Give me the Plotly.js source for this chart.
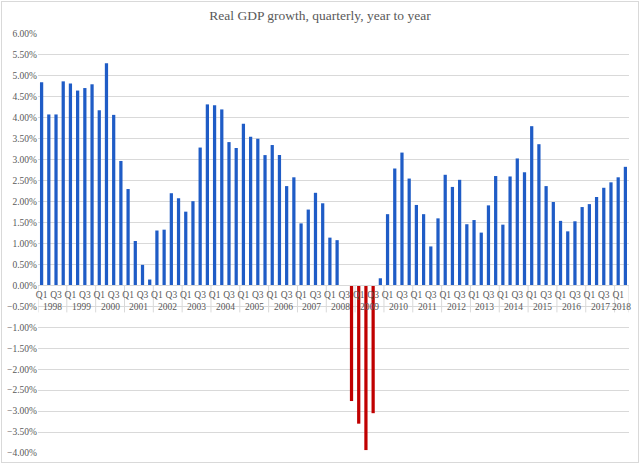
<!DOCTYPE html>
<html>
<head>
<meta charset="utf-8">
<script src="https://cdn.plot.ly/plotly-3.0.1.min.js"></script>
<style>
  body { margin: 0; background: #fff; }
  #wrap { position: relative; width: 640px; height: 464px; }
  #chart { width: 640px; height: 464px; }
  #frame { position: absolute; left: 1px; top: 1px; width: 636px; height: 460px;
           border: 1px solid #d9d9d9; pointer-events: none; }
</style>
</head>
<body>
<div id="wrap"><div id="chart"></div><div id="frame"></div></div>
<script>
/* ─── Data: real GDP growth, % year on year, 1998 Q1 – 2018 Q2 ─── */
const YEARS = [1998, 1999, 2000, 2001, 2002, 2003, 2004, 2005, 2006, 2007,
               2008, 2009, 2010, 2011, 2012, 2013, 2014, 2015, 2016, 2017, 2018];
const QUARTERS = ['Q1', 'Q2', 'Q3', 'Q4'];

const GROWTH = [
  4.85, 4.08, 4.08, 4.87,   // 1998
  4.82, 4.65, 4.71, 4.80,   // 1999
  4.18, 5.30, 4.07, 2.97,   // 2000
  2.30, 1.06, 0.49, 0.14,   // 2001
  1.31, 1.33, 2.20, 2.08,   // 2002
  1.76, 2.01, 3.29, 4.32,   // 2003
  4.30, 4.20, 3.42, 3.28,   // 2004
  3.86, 3.55, 3.50, 3.11,   // 2005
  3.35, 3.11, 2.37, 2.58,   // 2006
  1.48, 1.81, 2.21, 1.96,   // 2007
  1.14, 1.08, 0.00, -2.76,  // 2008
  -3.30, -3.93, -3.05, 0.17, // 2009
  1.70, 2.79, 3.17, 2.55,   // 2010
  1.92, 1.70, 0.93, 1.60,   // 2011
  2.64, 2.35, 2.52, 1.46,   // 2012
  1.56, 1.26, 1.91, 2.61,   // 2013
  1.45, 2.60, 3.03, 2.70,   // 2014
  3.80, 3.37, 2.37, 1.99,   // 2015
  1.54, 1.29, 1.53, 1.87,   // 2016
  1.94, 2.11, 2.33, 2.46,   // 2017
  2.58, 2.83,               // 2018
];

const COLORS = {
  BLUE: '#1f5cc6',
  RED: '#c00000',
  TEXT: '#595959',
  GRID: '#d9d9d9',
};
const FONT = '"Liberation Serif","DejaVu Serif",serif';

/* ─── Category positions & labels ─── */
const idx = GROWTH.map((_, i) => i);
const qLabel = idx.map(i => QUARTERS[i % 4]);
const tickIdx = idx.filter(i => i % 2 === 0);          // Excel shows only Q1 / Q3
const tickTxt = tickIdx.map(i => qLabel[i]);

// year group boundaries and centres
const bounds = YEARS.map((_, k) => k * 4 - 0.5).concat([GROWTH.length - 0.5]);
const yearAnn = YEARS.map((y, k) => {
  const last = Math.min(k * 4 + 3, GROWTH.length - 1);
  return {
    x: (k * 4 + last) / 2, y: 0, xref: 'x', yref: 'y',
    text: String(y), showarrow: false, yanchor: 'top', yshift: -15,
    font: { family: FONT, size: 9.5, color: COLORS.TEXT },
  };
});
const dividers = bounds.map(b => ({
  type: 'line', xref: 'x', yref: 'y', ysizemode: 'pixel', yanchor: 0,
  x0: b, x1: b, y0: 0, y1: -27,
  line: { color: COLORS.GRID, width: 1 }, layer: 'below',
}));

const trace = {
  type: 'bar',
  x: idx,
  y: GROWTH,
  marker: { color: GROWTH.map(v => (v < 0 ? COLORS.RED : COLORS.BLUE)) },
  hoverinfo: 'y',
};

const Y_MIN = -4, Y_MAX = 6;

const layout = {
  width: 640, height: 464,
  paper_bgcolor: '#fff', plot_bgcolor: '#fff',
  margin: { l: 38, r: 11, t: 34, b: 11 },
  bargap: 0.55,
  showlegend: false,
  font: { family: FONT, color: COLORS.TEXT, size: 9.5 },
  title: {
    text: 'Real GDP growth, quarterly, year to year',
    font: { family: FONT, size: 13.5, color: COLORS.TEXT },
    x: 0.5, xanchor: 'center', y: 0.967, yanchor: 'middle',
  },
  xaxis: {
    range: [-0.5, GROWTH.length - 0.5],
    anchor: 'free',
    position: (0 - Y_MIN) / (Y_MAX - Y_MIN),
    showline: true, linecolor: COLORS.GRID, linewidth: 1,
    showgrid: false, zeroline: false,
    ticks: '',
    tickmode: 'array', tickvals: tickIdx, ticktext: tickTxt,
    tickfont: { family: FONT, size: 9.5, color: COLORS.TEXT },
    ticklabelstandoff: 0,
    fixedrange: true,
  },
  yaxis: {
    range: [Y_MIN, Y_MAX],
    dtick: 0.5, tick0: 0,
    tickformat: '.2f', ticksuffix: '%',
    showgrid: true, gridcolor: COLORS.GRID, gridwidth: 1,
    zeroline: false, showline: false, ticks: '',
    tickfont: { family: FONT, size: 9.5, color: COLORS.TEXT },
    fixedrange: true,
  },
  annotations: yearAnn,
  shapes: dividers,
};

Plotly.newPlot('chart', [trace], layout, { displayModeBar: false, staticPlot: true });
</script>
</body>
</html>
